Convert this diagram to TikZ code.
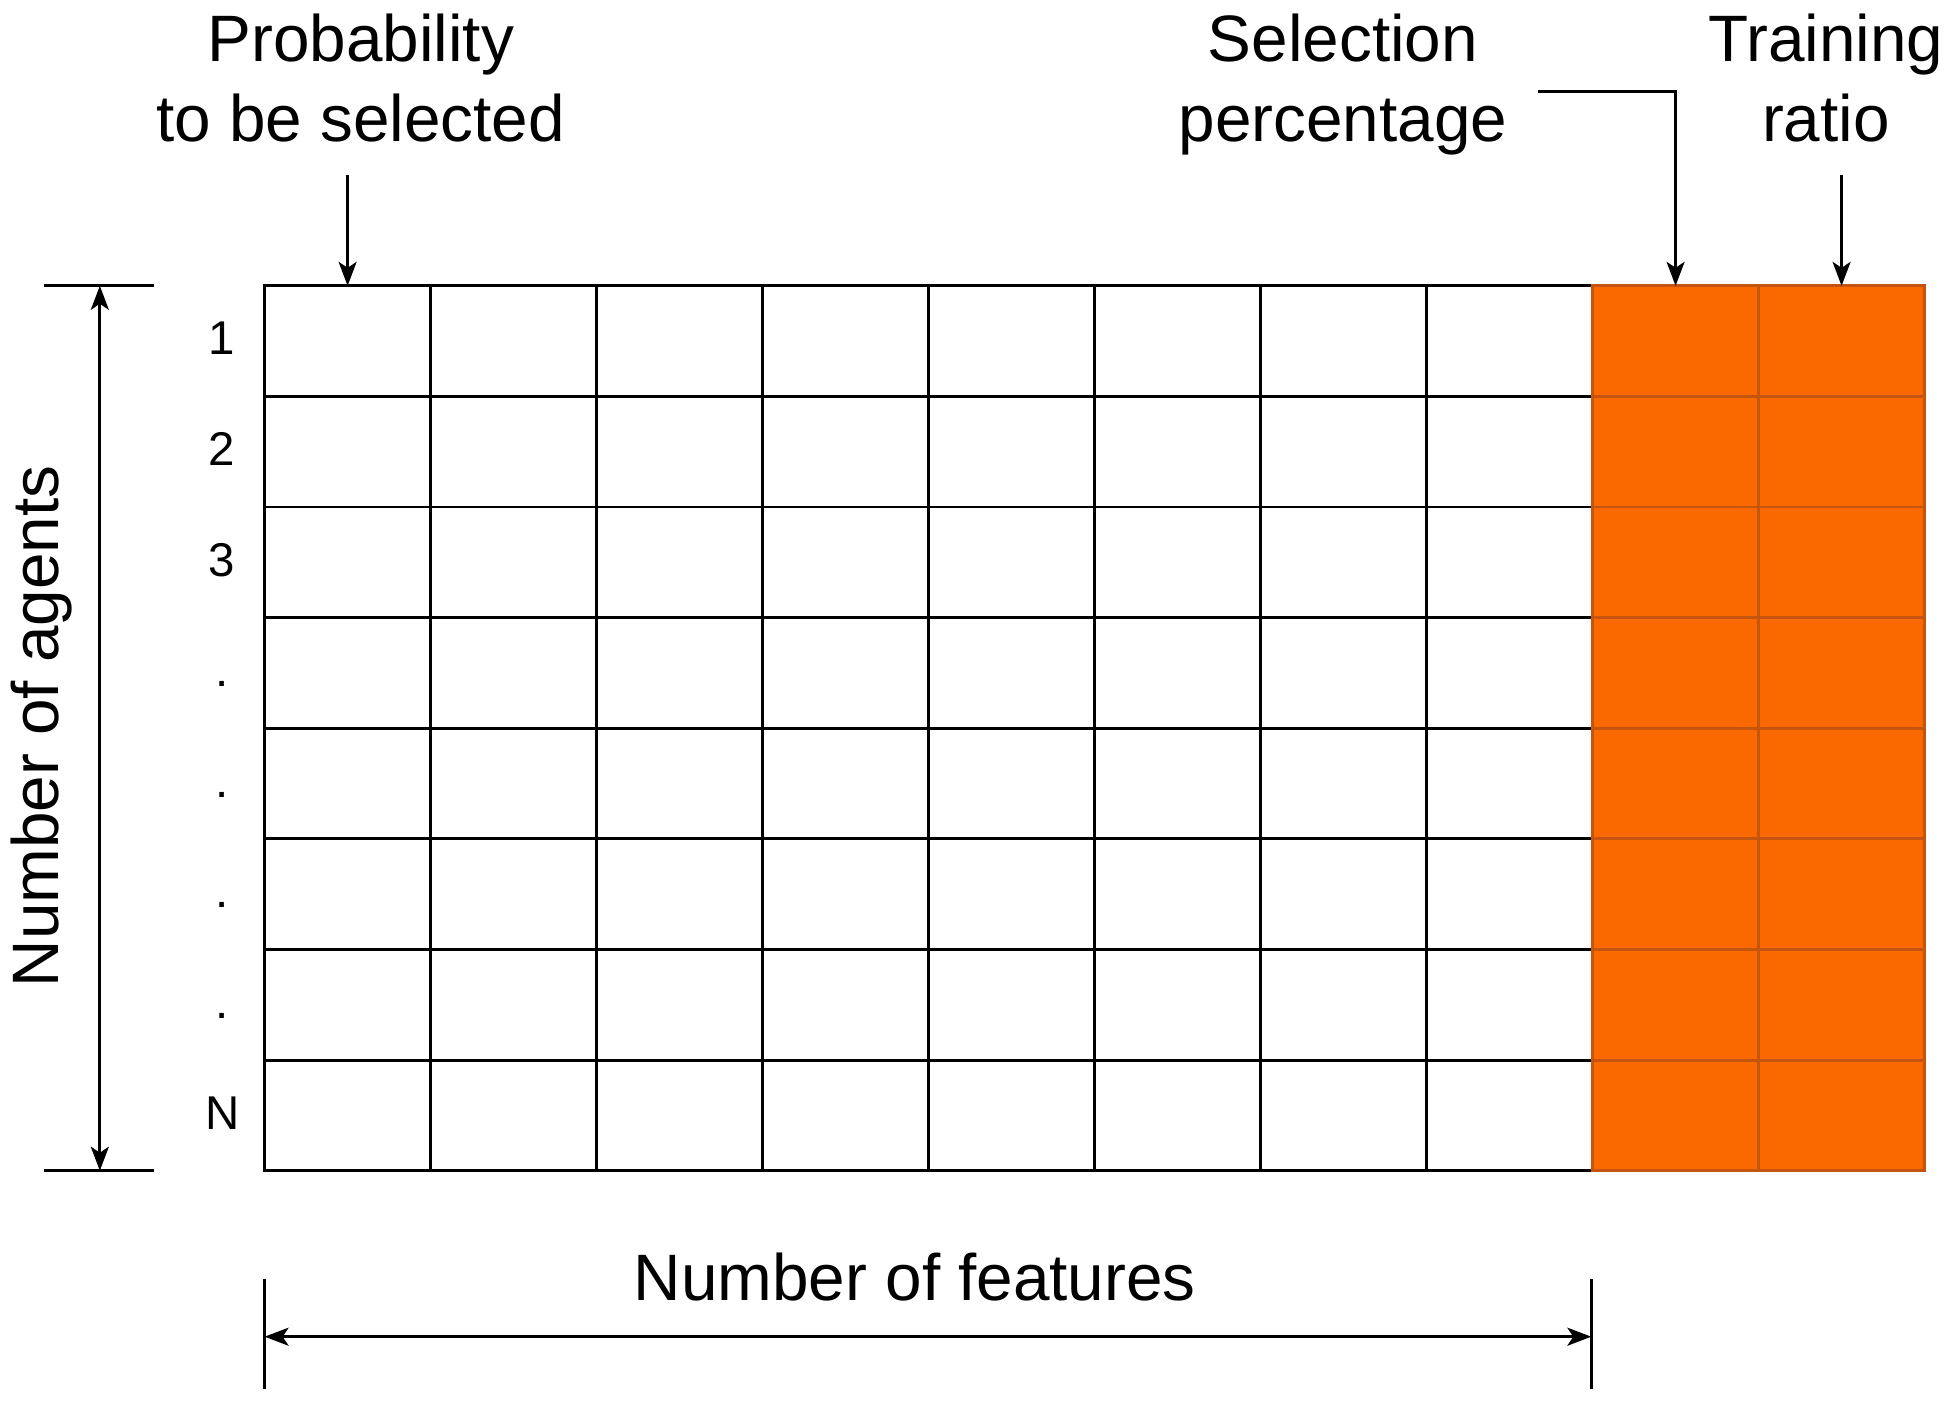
\documentclass[tikz,border=0pt]{standalone}
\usepackage{fontspec}
\setmainfont{Liberation Sans}
\usetikzlibrary{arrows.meta}
\definecolor{cellorange}{RGB}{250,105,0}
\definecolor{celledge}{RGB}{195,85,15}
\begin{document}
\begin{tikzpicture}[x=0.0125cm,y=-0.0125cm,
  cell/.style={draw=black, line width=0.8pt, minimum width=1.6625cm, minimum height=1.1078cm, inner sep=0pt, outer sep=0pt, anchor=north west},
  ocell/.style={cell, fill=cellorange, draw=celledge},
  lbl/.style={font=\fontsize{18.7}{22.6}\selectfont, align=center, inner sep=0pt, anchor=base},
  rowlbl/.style={font=\fontsize{13.5}{16}\selectfont, inner sep=0pt, anchor=base},
  arr/.style={line width=0.8pt, -{Stealth[length=0.24cm,width=0.18cm,inset=0.06cm]}},
  darr/.style={line width=0.8pt, {Stealth[length=0.24cm,width=0.18cm,inset=0.06cm]}-{Stealth[length=0.24cm,width=0.18cm,inset=0.06cm]}},
  tick/.style={line width=0.8pt}]
\useasboundingbox (0,0) rectangle (1568,1134);
% grid
\foreach \r in {1,...,8}{
  \foreach \c in {1,...,8}{
    \node[cell] (c-\r-\c) at ({212+133*(\c-1)},{229+88.625*(\r-1)}) {};
  }
}
\foreach \r in {1,...,8}{
  \foreach \c in {9,10}{
    \node[ocell] (c-\r-\c) at ({212+133*(\c-1)},{229+88.625*(\r-1)}) {};
  }
}
% row labels
\foreach \t [count=\i] in {1,2,3,.,.,.,.,N}{
  \node[rowlbl] (r\i) at (178,{229+88.625*(\i-0.5)+11}) {\t};
}
% left dimension
\coordinate (lt1) at (35,229); \coordinate (lt2) at (123,229);
\coordinate (lb1) at (35,938); \coordinate (lb2) at (123,938);
\coordinate (la1) at (80,229); \coordinate (la2) at (80,938);
\draw[tick] (lt1) -- (lt2);
\draw[tick] (lb1) -- (lb2);
\draw[darr] (la1) -- (la2);
\node[font=\fontsize{18.7}{22.6}\selectfont, rotate=90, inner sep=0pt] (agents) at (33,582) {Number of agents};
% bottom dimension
\coordinate (bl1) at (212,1025); \coordinate (bl2) at (212,1113);
\coordinate (br1) at (1275,1025); \coordinate (br2) at (1275,1113);
\coordinate (ba1) at (212,1071); \coordinate (ba2) at (1275,1071);
\draw[tick] (bl1) -- (bl2);
\draw[tick] (br1) -- (br2);
\draw[darr] (ba1) -- (ba2);
\node[lbl] (feat) at (733,1042) {Number of features};
% top labels (anchor base = baseline of last line)
\node[lbl] (prob) at (289,113) {Probability\\to be selected};
\node[lbl] (sel) at (1076,113) {Selection\\percentage};
\node[lbl] (train) at (1463,113) {Training\\ratio};
% arrows
\draw[arr] ([yshift=1.1125cm]c-1-1.north) -- (c-1-1.north);
\coordinate (selstart) at (1232,73);
\draw[arr] (selstart) -| (c-1-9.north);
\draw[arr] ([yshift=1.1125cm]c-1-10.north) -- (c-1-10.north);
\end{tikzpicture}
\end{document}
